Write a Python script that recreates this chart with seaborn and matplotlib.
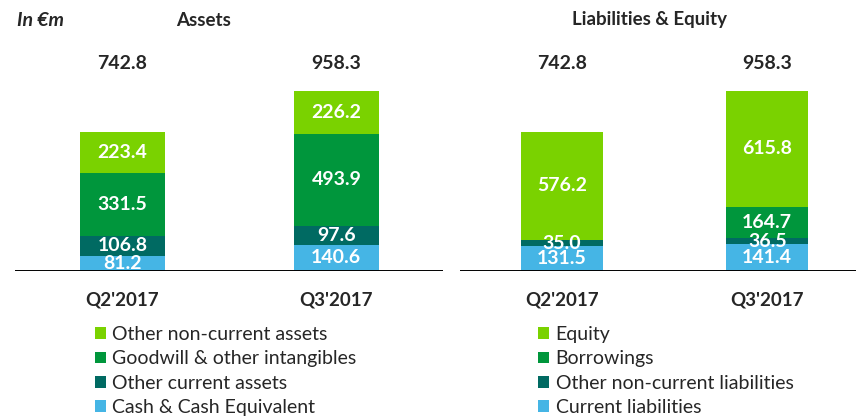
import pandas as pd
import numpy as np
import matplotlib
matplotlib.use("Agg")
import matplotlib.pyplot as plt
import seaborn as sns
from matplotlib.patches import Patch

# data (EUR m)
quarters = ["Q2'2017", "Q3'2017"]

asset_parts = ["Cash & Cash Equivalent", "Other current assets",
               "Goodwill & other intangibles", "Other non-current assets"]
cash = [81.2, 140.6]
other_current = [106.8, 97.6]
goodwill = [331.5, 493.9]
other_noncurrent = [223.4, 226.2]
asset_totals = [742.8, 958.3]

liab_parts = ["Current liabilities", "Other non-current liabilities",
              "Borrowings", "Equity"]
current_liab = [131.5, 141.4]
other_nc_liab = [35.0, 36.5]
borrowings = [0.0, 164.7]
equity = [576.2, 615.8]
liab_totals = [742.8, 958.3]

# bottom -> top colours
colors = ["#45B5E5", "#006A62", "#00963C", "#7AD200"]

sns.set_style("white")
plt.rcParams["font.family"] = ["Lato", "DejaVu Sans"]


def long_frame(parts, series):
    rows = []
    for part, vals in zip(parts, series):
        for q, v in zip(quarters, vals):
            rows.append({"quarter": q, "part": part, "value": v})
    df = pd.DataFrame(rows)
    df["part"] = pd.Categorical(df["part"], categories=parts, ordered=True)
    df = df.sort_values(["quarter", "part"])
    df["top"] = df.groupby("quarter")["value"].cumsum()
    df["mid"] = df["top"] - df["value"] / 2
    return df


def draw_panel(ax, df, parts, totals, xlim):
    # stack by overdrawing cumulative bars, tallest first
    for part, col in reversed(list(zip(parts, colors))):
        layer = df[df["part"] == part]
        sns.barplot(data=layer, x="quarter", y="top", order=quarters,
                    color=col, saturation=1, width=0.4, errorbar=None,
                    linewidth=0, ax=ax)
    for i, q in enumerate(quarters):
        sub = df[df["quarter"] == q]
        for _, r in sub.iterrows():
            if r["value"] > 0:
                ax.text(i, r["mid"], f"{r['value']:.1f}", ha="center",
                        va="center", color="white", fontsize=14,
                        fontweight="bold")
        ax.text(i, 0.99, f"{totals[i]:.1f}", transform=ax.get_xaxis_transform(),
                ha="center", va="center", fontsize=14, fontweight="bold")
    ax.axhline(0, color="black", lw=1.4)
    ax.set_ylim(0, 1118.8)
    ax.set_xlim(*xlim)
    ax.set_xlabel("")
    ax.set_ylabel("")
    ax.set_yticks([])
    ax.tick_params(axis="x", length=0, pad=15, labelsize=13.5)
    for lab in ax.get_xticklabels():
        lab.set_fontweight("bold")
    sns.despine(ax=ax, left=True, bottom=True)


fig = plt.figure(figsize=(8.56, 4.16), dpi=100)
ax1 = fig.add_axes([15 / 856, 145 / 416, 428 / 856, 210 / 416])
ax2 = fig.add_axes([460 / 856, 145 / 416, 396 / 856, 210 / 416])

assets = long_frame(asset_parts, [cash, other_current, goodwill, other_noncurrent])
liabs = long_frame(liab_parts, [current_liab, other_nc_liab, borrowings, equity])

draw_panel(ax1, assets, asset_parts, asset_totals, (-0.503, 1.499))
draw_panel(ax2, liabs, liab_parts, liab_totals, (-0.497, 1.433))

fig.text(17 / 856, 1 - 21 / 416, "In €m", fontsize=14, fontweight="bold",
         fontstyle="italic", va="center", ha="left")
fig.text(204 / 856, 1 - 20 / 416, "Assets", fontsize=13.5, fontweight="bold",
         va="center", ha="center")
fig.text(650 / 856, 1 - 20 / 416, "Liabilities & Equity", fontsize=13.5,
         fontweight="bold", va="center", ha="center")

for parts, x0 in [(asset_parts, 95), (liab_parts, 538)]:
    handles = [Patch(facecolor=c, edgecolor="none", label=p)
               for p, c in reversed(list(zip(parts, colors)))]
    fig.legend(handles=handles, loc="upper left",
               bbox_to_anchor=(x0 / 856, 1 - 326 / 416), frameon=False,
               fontsize=14, handlelength=0.55, handleheight=0.55,
               handletextpad=0.35, labelspacing=0.38, borderpad=0,
               borderaxespad=0)

fig.savefig("out.png", dpi=100)
